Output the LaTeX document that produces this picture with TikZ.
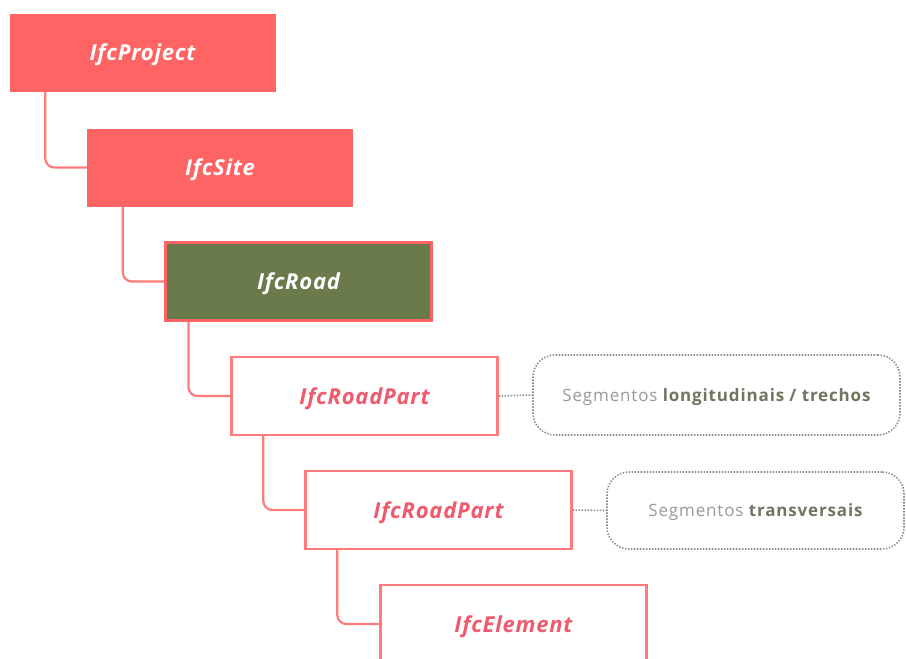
\documentclass[tikz,border=0pt]{standalone}
\usepackage{fontspec}
\setmainfont{Open Sans}
\definecolor{salmon}{HTML}{FF6464}
\definecolor{roadgreen}{HTML}{6B7A4B}
\definecolor{parttext}{HTML}{EE5A6E}
\definecolor{notegray}{HTML}{9A9A94}
\definecolor{noteolive}{HTML}{6E7660}
\definecolor{dotgray}{HTML}{8C8C86}
\tikzset{
  entity/.style={minimum width=266pt, minimum height=78pt, inner sep=0pt,
    text height=16pt, text depth=0pt,
    font=\fontsize{22}{26}\selectfont\bfseries\itshape\addfontfeature{LetterSpace=3.5}},
  filledbox/.style={entity, fill=salmon, text=white},
  roadbox/.style={entity, fill=roadgreen, draw=salmon, line width=2.2pt, text=white},
  partbox/.style={entity, fill=white, draw=salmon!85!white, line width=2.4pt, text=parttext},
  conn/.style={draw=salmon!85!white, line width=2.2pt, rounded corners=9pt},
  note/.style={draw=dotgray, line width=1.6pt, dash pattern=on 1.4pt off 1.6pt,
    rounded corners=22pt, inner sep=0pt, text height=12pt, text depth=0pt,
    text=notegray, font=\fontsize{17}{20}\selectfont\addfontfeature{LetterSpace=5}},
  dotline/.style={draw=dotgray, line width=1.6pt, dash pattern=on 1.4pt off 1.6pt}
}
\begin{document}
\begin{tikzpicture}[x=1pt,y=-1pt]
  \clip (0,0) rectangle (906,659);
  \fill[white] (0,0) rectangle (906,659);

  % hierarchy of IFC entities
  \node[filledbox] (proj) at (142.5,52.5) {IfcProject};
  \node[filledbox] (site) at (220,167.5) {IfcSite};
  \node[roadbox]   (road) at (298.5,281.5) {IfcRoad};
  \node[partbox]   (partA) at (364.5,396) {IfcRoadPart};
  \node[partbox]   (partB) at (438.5,510) {IfcRoadPart};
  \node[partbox]   (elem) at (513.5,624) {IfcElement};

  % parent-child connectors
  \draw[conn] ([xshift=36pt]proj.south west) |- (site.west);
  \draw[conn] ([xshift=36pt]site.south west) |- (road.west);
  \draw[conn] ([xshift=24pt]road.south west) |- (partA.west);
  \draw[conn] ([xshift=33pt]partA.south west) |- (partB.west);
  \draw[conn] ([xshift=33pt]partB.south west) |- (elem.west);

  % explanatory notes
  \node[note, minimum width=367pt, minimum height=80pt] (noteA) at (716.5,395)
    {Segmentos \textcolor{noteolive}{\bfseries longitudinais / trechos}};
  \node[note, minimum width=297pt, minimum height=77pt] (noteB) at (755.5,510.5)
    {Segmentos \textcolor{noteolive}{\bfseries transversais}};
  \draw[dotline] (partA.east) -- (noteA.west);
  \draw[dotline] (partB.east) -- (noteB.west);
\end{tikzpicture}
\end{document}
